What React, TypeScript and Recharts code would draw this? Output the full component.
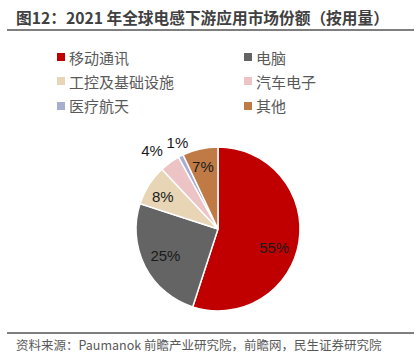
import { Cell, Pie, PieChart } from "recharts";

const categories = ["移动通讯", "电脑", "工控及基础设施", "汽车电子", "医疗航天", "其他"];
const shares = [55, 25, 8, 4, 1, 7];
const sliceColors = ["#c00000", "#646464", "#e8d5b5", "#ecc4c5", "#a9aed0", "#c07a45"];

// label placement per slice: [radius ratio, angle shift in degrees]
const labelPlacement: [number, number][] = [
  [0.72, -9],
  [0.72, 0],
  [0.78, 2],
  [1.25, 4],
  [1.17, -2],
  [0.78, 1],
];

const titleText = "图12：2021 年全球电感下游应用市场份额（按用量）";
const sourceText = "资料来源：Paumanok 前瞻产业研究院，前瞻网，民生证券研究院";

const data = categories.map((name, i) => ({ name, value: shares[i] }));

const RAD = Math.PI / 180;

function renderLabel(props: any) {
  const { cx, cy, midAngle, outerRadius, index, value } = props;
  const [ratio, shift] = labelPlacement[index];
  const angle = (midAngle + shift) * RAD;
  const r = outerRadius * ratio;
  const x = cx + r * Math.cos(angle);
  const y = cy - r * Math.sin(angle);
  return (
    <text
      x={x}
      y={y}
      textAnchor="middle"
      dominantBaseline="central"
      fill="#1a1a1a"
      fontSize={15}
      fontFamily="'Liberation Sans', Arial, sans-serif"
    >
      {`${value}%`}
    </text>
  );
}

function LegendGrid() {
  return (
    <div style={{ position: "absolute", left: 0, top: 47, width: 419, height: 70 }}>
      {categories.map((name, i) => {
        const col = i % 2;
        const row = Math.floor(i / 2);
        return (
          <div
            key={name}
            style={{
              position: "absolute",
              left: col === 0 ? 57 : 244,
              top: row * 24.3,
              height: 20,
              display: "flex",
              alignItems: "center",
              fontSize: 15,
              color: "#595959",
              whiteSpace: "nowrap",
            }}
          >
            <span style={{ width: 8, height: 8, background: sliceColors[i], marginRight: 4 }} />
            {name}
          </div>
        );
      })}
    </div>
  );
}

export default function App() {
  return (
    <div
      style={{
        position: "fixed",
        left: 0,
        top: 0,
        width: 419,
        height: 357,
        background: "#ffffff",
        fontFamily: "'Noto Sans CJK SC', sans-serif",
      }}
    >
      <div
        style={{
          position: "absolute",
          left: 16,
          top: 8,
          fontSize: 15.7,
          fontWeight: 700,
          color: "#404040",
          lineHeight: "20px",
          whiteSpace: "nowrap",
        }}
      >
        {titleText}
      </div>
      <div style={{ position: "absolute", left: 7, top: 29, width: 407, height: 2, background: "#7f7f7f" }} />

      <LegendGrid />

      <div style={{ position: "absolute", left: 0, top: 0 }}>
        <PieChart width={419} height={357} margin={{ top: 0, right: 0, bottom: 0, left: 0 }}>
          <Pie
            data={data}
            dataKey="value"
            nameKey="name"
            cx={218}
            cy={229}
            outerRadius={82}
            startAngle={90}
            endAngle={-270}
            stroke="#ffffff"
            strokeWidth={1.5}
            label={renderLabel}
            labelLine={false}
            isAnimationActive={false}
          >
            {data.map((d, i) => (
              <Cell key={d.name} fill={sliceColors[i]} />
            ))}
          </Pie>
        </PieChart>
      </div>

      <div style={{ position: "absolute", left: 7, top: 332, width: 407, height: 1.5, background: "#7f7f7f" }} />
      <div
        style={{
          position: "absolute",
          left: 16,
          top: 336,
          fontSize: 12.5,
          color: "#595959",
          lineHeight: "18px",
          whiteSpace: "nowrap",
        }}
      >
        {sourceText}
      </div>
    </div>
  );
}
